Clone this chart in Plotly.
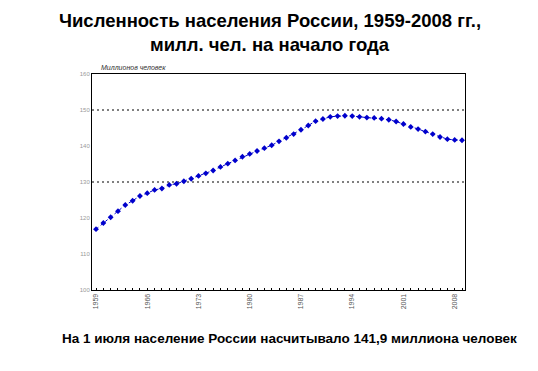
import plotly.graph_objects as go

years = list(range(1959, 2010))
population = [116.9, 118.6, 120.2, 121.9, 123.6, 124.8, 126.1, 126.9, 127.8, 128.2,
              129.2, 129.5, 130.2, 130.9, 131.7, 132.4, 133.2, 134.2, 135.1, 136.0,
              137.0, 137.8, 138.6, 139.4, 140.2, 141.3, 142.3, 143.3, 144.5, 145.7,
              146.9, 147.5, 148.1, 148.3, 148.4, 148.3, 148.1, 147.9, 147.8, 147.6,
              147.3, 146.8, 146.1, 145.3, 144.7, 144.0, 143.3, 142.5, 141.9, 141.7,
              141.6]
x_tick_years = [1959, 1966, 1973, 1980, 1987, 1994, 2001, 2008]
y_ticks = [100, 110, 120, 130, 140, 150, 160]
grid_values = [130, 150]

title_line1 = "Численность населения России, 1959-2008 гг.,"
title_line2 = "милл. чел. на начало года"
unit_text = "Миллионов человек"
footer_text = "На 1 июля население России насчитывало 141,9 миллиона человек"

W, H = 538, 371
ML, MR, MT, MB = 92, 73, 74, 81
PW, PH = W - ML - MR, H - MT - MB

def px_x(x):
    return (x - ML) / PW

def px_y(y):
    return (H - MB - y) / PH

fig = go.Figure()
fig.add_trace(go.Scatter(
    x=years, y=population, mode="lines+markers",
    line=dict(color="#0000cc", width=1, dash="dot"),
    marker=dict(symbol="diamond", size=4.5, color="#0000cc"),
    showlegend=False, hoverinfo="x+y"))

for g in grid_values:
    fig.add_shape(type="line", xref="paper", yref="y", x0=0, x1=1, y0=g, y1=g,
                  line=dict(color="black", width=1, dash="2px,3px"), layer="below")

fig.update_layout(
    width=W, height=H,
    margin=dict(l=ML, r=MR, t=MT, b=MB),
    paper_bgcolor="white", plot_bgcolor="white",
    font=dict(family="Liberation Sans, Arial, sans-serif", color="black"),
    xaxis=dict(range=[1958.45, 2009.41], tickvals=x_tick_years,
               ticktext=[str(y) for y in x_tick_years], tickangle=-90,
               tickfont=dict(size=7, color="#555555"),
               showgrid=False, zeroline=False, showline=True, linecolor="black",
               linewidth=1, mirror=True, ticks="",
               minor=dict(ticks="inside", ticklen=2, dtick=1, tick0=1959,
                          tickcolor="black", showgrid=False)),
    yaxis=dict(range=[100, 160], tickvals=y_ticks,
               ticktext=[str(v) for v in y_ticks],
               tickfont=dict(size=6, color="#999999"),
               showgrid=False, zeroline=False, showline=True, linecolor="black",
               linewidth=1, mirror=True, ticks=""),
    annotations=[
        dict(text="<b>" + title_line1 + "</b>", xref="paper", yref="paper",
             x=px_x(270), y=px_y(20), xanchor="center", yanchor="middle",
             showarrow=False, font=dict(size=18.5, color="black")),
        dict(text="<b>" + title_line2 + "</b>", xref="paper", yref="paper",
             x=px_x(270), y=px_y(44), xanchor="center", yanchor="middle",
             showarrow=False, font=dict(size=18.5, color="black")),
        dict(text="<i>" + unit_text + "</i>", xref="paper", yref="paper", x=0.02, y=1.005,
             xanchor="left", yanchor="bottom", showarrow=False,
             font=dict(size=7, color="#333333")),
        dict(text="<b>" + footer_text + "</b>", xref="paper", yref="paper",
             x=px_x(289), y=px_y(338), xanchor="center", yanchor="middle",
             showarrow=False, font=dict(size=13.5, color="black")),
    ],
)

fig.write_html("out.html")
